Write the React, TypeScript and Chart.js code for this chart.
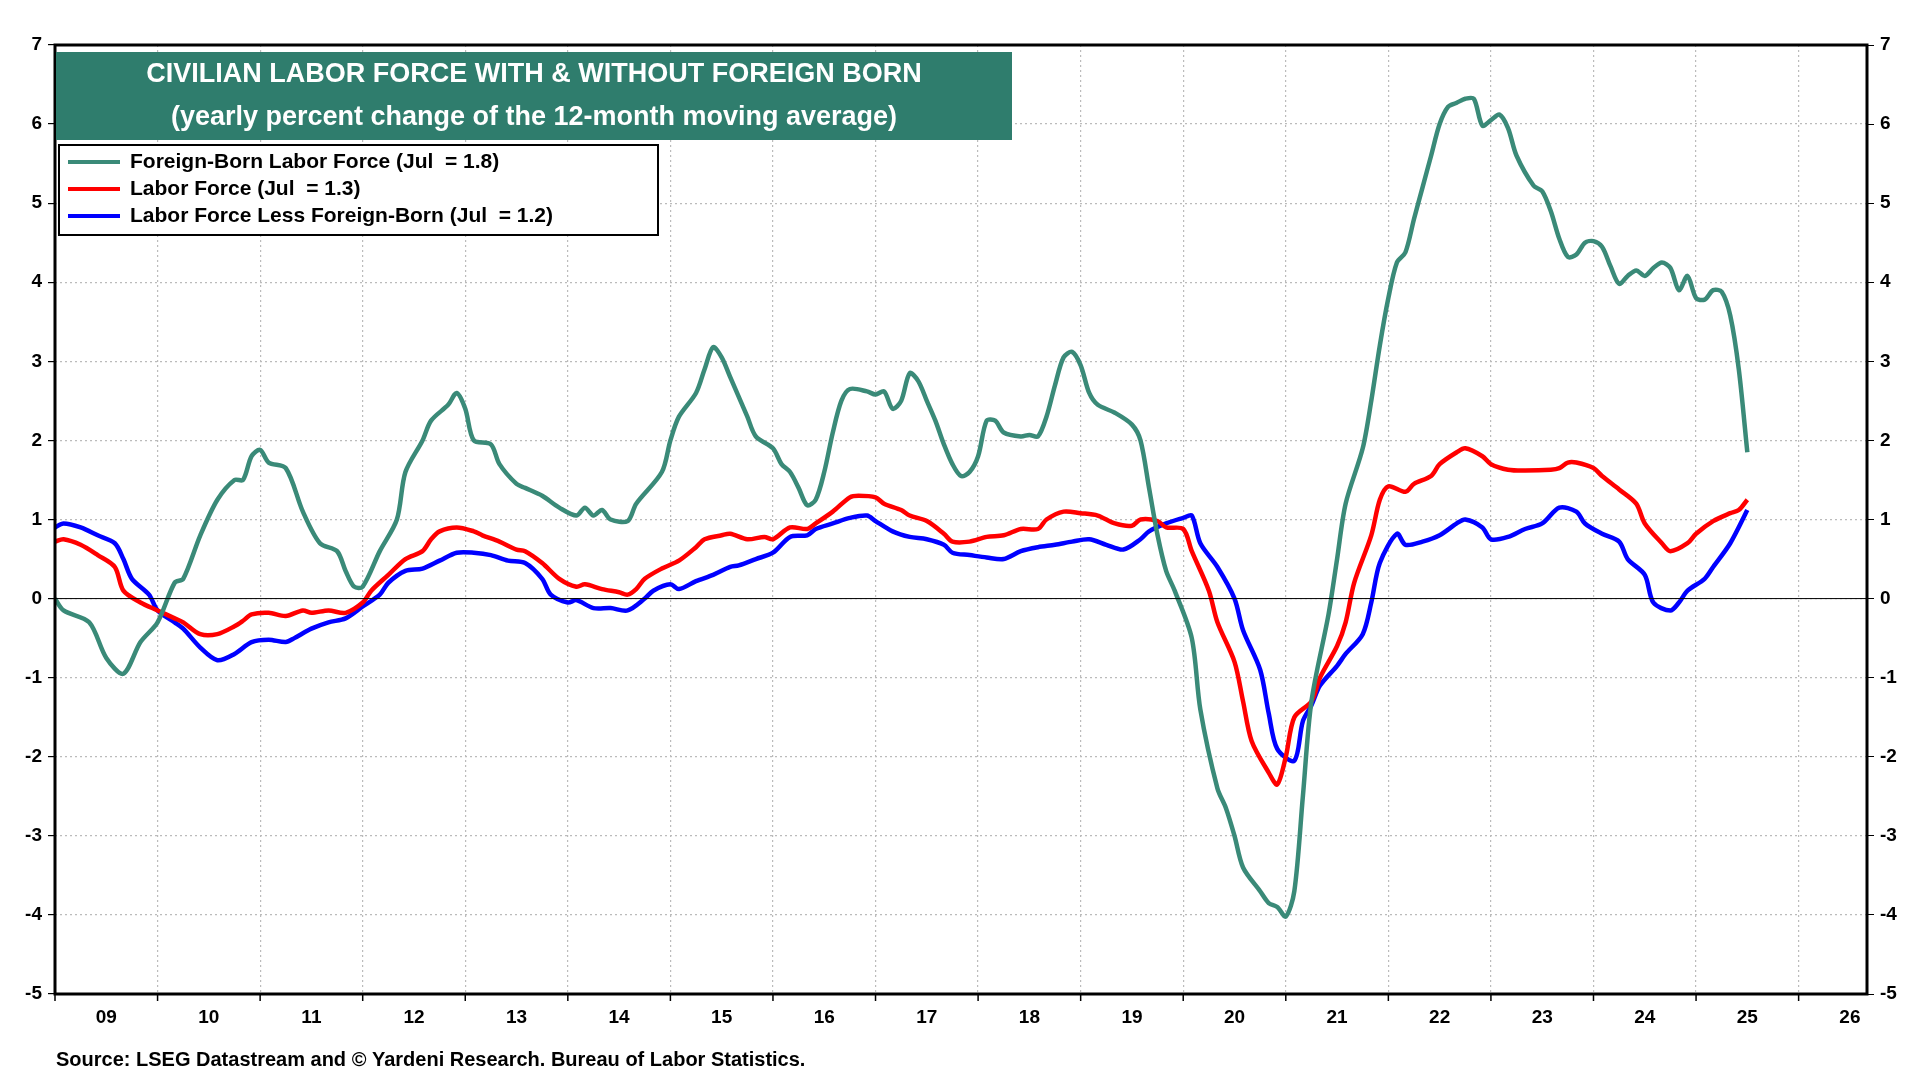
import React, { useEffect, useRef } from "react";
import { Chart, registerables } from "chart.js";
Chart.register(...registerables);

// month index since Jan 2009
const fbMonths = [0,1,4,6,8,10,12,14,15,17,19,21,22,23,24,25,27,29,31,33,34,35,36,38,40,41,43,44,46,47,48,49,51,52,54,55,57,59,61,62,63,64,65,67,68,71,72,73,75,76,77,78,79,81,82,84,85,86,87,88,89,90,91,92,93,95,96,97,98,99,100,101,102,103,104,105,106,107,108,109,110,111,113,114,115,116,117,118,119,120,121,122,124,126,127,128,129,130,131,133,134,136,137,138,139,141,142,143,144,145,146,147,149,150,151,153,154,155,156,157,158,159,160,161,162,163,164,165,166,167,168,169,170,171,173,174,175,176,177,178,179,180,181,182,183,184,185,186,187,188,189,190,191,192,193,194,195,196,197,198];
const fbValues = [0.0,-0.15,-0.3,-0.75,-0.95,-0.55,-0.3,0.2,0.25,0.8,1.25,1.5,1.5,1.8,1.88,1.72,1.65,1.1,0.7,0.6,0.35,0.15,0.15,0.6,1.0,1.6,2.0,2.25,2.45,2.6,2.4,2.0,1.95,1.7,1.45,1.4,1.3,1.15,1.05,1.15,1.05,1.12,1.0,0.98,1.2,1.6,2.0,2.3,2.6,2.9,3.18,3.05,2.8,2.3,2.05,1.9,1.7,1.6,1.4,1.18,1.25,1.6,2.1,2.5,2.65,2.62,2.58,2.62,2.4,2.5,2.85,2.75,2.5,2.25,1.95,1.7,1.55,1.6,1.8,2.25,2.25,2.1,2.05,2.07,2.05,2.3,2.7,3.05,3.12,2.95,2.6,2.45,2.35,2.2,2.0,1.4,0.8,0.35,0.1,-0.5,-1.4,-2.4,-2.65,-3.0,-3.4,-3.7,-3.85,-3.9,-4.02,-3.7,-2.5,-1.3,-0.2,0.5,1.2,1.9,2.5,3.2,3.8,4.25,4.38,4.8,5.2,5.6,6.0,6.22,6.27,6.32,6.32,5.98,6.05,6.12,5.95,5.6,5.22,5.15,4.9,4.55,4.32,4.35,4.5,4.52,4.45,4.2,3.98,4.08,4.15,4.08,4.18,4.25,4.18,3.9,4.08,3.8,3.78,3.9,3.88,3.58,2.9,1.85];

const lfMonths = [0,1,3,5,7,8,10,12,14,15,17,19,21,22,23,25,27,29,30,32,34,36,37,39,41,43,44,45,47,49,50,52,54,55,57,59,61,62,64,66,67,68,69,71,73,75,76,78,79,81,83,84,86,88,89,91,93,94,96,97,99,100,102,104,105,107,109,111,113,115,116,118,120,122,124,126,127,129,130,132,133,135,136,138,139,140,142,143,144,145,147,148,150,151,152,154,155,156,158,159,161,162,164,165,167,168,170,172,175,176,177,178,180,181,183,185,186,188,189,191,192,194,196,197,198];
const lfValues = [0.72,0.75,0.68,0.55,0.4,0.1,-0.05,-0.15,-0.25,-0.3,-0.45,-0.45,-0.35,-0.28,-0.2,-0.18,-0.22,-0.15,-0.18,-0.15,-0.18,-0.05,0.1,0.3,0.5,0.6,0.75,0.85,0.9,0.85,0.8,0.72,0.62,0.6,0.45,0.25,0.15,0.18,0.12,0.08,0.05,0.12,0.25,0.38,0.48,0.65,0.75,0.8,0.82,0.75,0.78,0.75,0.9,0.88,0.95,1.1,1.28,1.3,1.28,1.2,1.12,1.05,0.98,0.82,0.72,0.72,0.78,0.8,0.88,0.88,1.0,1.1,1.08,1.05,0.95,0.92,1.0,0.98,0.9,0.88,0.6,0.1,-0.3,-0.8,-1.3,-1.8,-2.2,-2.35,-2.0,-1.5,-1.3,-1.0,-0.6,-0.3,0.2,0.8,1.25,1.42,1.35,1.45,1.55,1.7,1.85,1.9,1.8,1.7,1.63,1.62,1.63,1.65,1.72,1.72,1.65,1.55,1.38,1.2,0.95,0.7,0.6,0.7,0.82,0.98,1.08,1.12,1.25];

const nfMonths = [0,1,3,5,7,8,9,11,12,14,15,17,19,21,23,25,27,28,30,32,34,36,38,39,41,43,45,47,49,51,53,55,57,58,60,61,63,65,67,69,70,72,73,75,77,79,80,82,84,86,88,89,91,93,95,96,98,100,102,104,105,107,109,111,113,115,117,119,121,123,125,127,128,130,132,133,134,136,138,139,141,142,143,145,146,147,148,150,151,153,154,155,157,158,160,162,164,165,167,168,170,172,174,176,178,179,181,183,184,186,187,189,190,191,193,194,196,198];
const nfValues = [0.9,0.95,0.9,0.8,0.7,0.5,0.25,0.05,-0.15,-0.3,-0.38,-0.62,-0.78,-0.7,-0.55,-0.52,-0.55,-0.5,-0.38,-0.3,-0.25,-0.1,0.05,0.2,0.35,0.38,0.48,0.58,0.58,0.55,0.48,0.45,0.25,0.05,-0.05,-0.02,-0.12,-0.12,-0.15,0.0,0.1,0.18,0.12,0.22,0.3,0.4,0.42,0.5,0.58,0.78,0.8,0.88,0.95,1.02,1.05,0.98,0.85,0.78,0.75,0.68,0.58,0.55,0.52,0.5,0.6,0.65,0.68,0.72,0.75,0.68,0.62,0.75,0.85,0.95,1.02,1.05,0.7,0.4,0.0,-0.4,-0.9,-1.45,-1.9,-2.05,-1.55,-1.35,-1.1,-0.85,-0.7,-0.45,-0.05,0.45,0.82,0.68,0.72,0.8,0.95,1.0,0.9,0.75,0.78,0.88,0.95,1.15,1.1,0.95,0.82,0.72,0.5,0.3,-0.05,-0.15,-0.05,0.1,0.25,0.4,0.7,1.12];

const yearLabels = ["09","10","11","12","13","14","15","16","17","18","19","20","21","22","23","24","25","26"];
const seriesLabels = ["Foreign-Born Labor Force (Jul  = 1.8)", "Labor Force (Jul  = 1.3)", "Labor Force Less Foreign-Born (Jul  = 1.2)"];
const titleLines = ["CIVILIAN LABOR FORCE WITH & WITHOUT FOREIGN BORN", "(yearly percent change of the 12-month moving average)"];
const sourceText = "Source: LSEG Datastream and \u00A9 Yardeni Research. Bureau of Labor Statistics.";

const TEAL = "#3a8a78";
const FONT = "'Liberation Sans', Arial, sans-serif";
const toXY = (ms: number[], vs: number[]) => ms.map((m, i) => ({ x: m, y: vs[i] }));

export default function App() {
  const ref = useRef<HTMLCanvasElement>(null);
  useEffect(() => {
    document.body.style.margin = "0";
    const colors = [TEAL, "#ff0000", "#0000ff"];
    const overlay = {
      id: "overlay",
      afterDraw(chart: any) {
        const { ctx, chartArea: a, scales } = chart;
        ctx.save();
        // zero line
        const y0 = scales.y.getPixelForValue(0);
        ctx.strokeStyle = "#000"; ctx.lineWidth = 1;
        ctx.beginPath(); ctx.moveTo(a.left, y0); ctx.lineTo(a.right, y0); ctx.stroke();
        // frame
        ctx.lineWidth = 3;
        ctx.strokeRect(a.left, a.top, a.right - a.left, a.bottom - a.top);
        // year labels
        ctx.fillStyle = "#000"; ctx.font = `bold 19px ${FONT}`;
        ctx.textAlign = "center"; ctx.textBaseline = "top";
        yearLabels.forEach((l, i) => {
          const x = scales.x.getPixelForValue(i * 12 + 6);
          ctx.fillText(l, x, a.bottom + 14);
          const gx = scales.x.getPixelForValue(i * 12);
          ctx.lineWidth = 1.5;
          ctx.beginPath(); ctx.moveTo(gx, a.bottom); ctx.lineTo(gx, a.bottom + 7); ctx.stroke();
        });
        // title box
        ctx.fillStyle = "#2f7d6d";
        ctx.fillRect(56, 52, 956, 88);
        ctx.fillStyle = "#fff"; ctx.font = `bold 27px ${FONT}`;
        ctx.textBaseline = "middle";
        ctx.fillText(titleLines[0], 534, 75);
        ctx.fillText(titleLines[1], 534, 118);
        // legend
        ctx.fillStyle = "#fff";
        ctx.fillRect(59, 145, 599, 90);
        ctx.strokeStyle = "#000"; ctx.lineWidth = 2;
        ctx.strokeRect(59, 145, 599, 90);
        ctx.font = `bold 21px ${FONT}`; ctx.textAlign = "left";
        seriesLabels.forEach((l, i) => {
          const yy = 162 + i * 27;
          ctx.strokeStyle = colors[i]; ctx.lineWidth = 4;
          ctx.beginPath(); ctx.moveTo(68, yy); ctx.lineTo(120, yy); ctx.stroke();
          ctx.fillStyle = "#000"; ctx.fillText(l, 130, yy);
        });
        // source
        ctx.font = `bold 20px ${FONT}`; ctx.textBaseline = "alphabetic";
        ctx.fillText(sourceText, 56, 1066);
        ctx.restore();
      },
    };
    const chart = new Chart(ref.current!, {
      type: "line",
      data: {
        datasets: [
          { label: seriesLabels[0], data: toXY(fbMonths, fbValues), borderColor: colors[0], borderWidth: 4.5, pointRadius: 0, tension: 0.3 },
          { label: seriesLabels[1], data: toXY(lfMonths, lfValues), borderColor: colors[1], borderWidth: 4.5, pointRadius: 0, tension: 0.3 },
          { label: seriesLabels[2], data: toXY(nfMonths, nfValues), borderColor: colors[2], borderWidth: 4.5, pointRadius: 0, tension: 0.3 },
        ],
      },
      options: {
        animation: false, responsive: false,
        layout: { padding: { top: 45, bottom: 46, left: 0, right: 0 } },
        plugins: { legend: { display: false }, tooltip: { enabled: false } },
        scales: {
          x: {
            type: "linear", min: 0, max: 212,
            afterBuildTicks: (s: any) => { s.ticks = yearLabels.map((_, i) => ({ value: i * 12 })).slice(1); },
            ticks: { callback: () => "", maxRotation: 0 },
            grid: { color: "#bbb", lineWidth: 1.2, tickLength: 0 },
            border: { display: false, dash: [2, 3] } as any,
            afterFit: (s: any) => { s.height = 40; },
          },
          y: {
            position: "left", min: -5, max: 7,
            ticks: { stepSize: 1, color: "#000", font: { family: FONT, size: 19, weight: "bold" }, padding: 6 },
            grid: { color: "#bbb", lineWidth: 1.2, tickLength: 7, tickColor: "#000" },
            border: { display: false, dash: [2, 3] } as any,
            afterFit: (s: any) => { s.width = 55; },
          },
          y2: {
            position: "right", min: -5, max: 7,
            ticks: { stepSize: 1, color: "#000", font: { family: FONT, size: 19, weight: "bold" }, padding: 6 },
            grid: { drawOnChartArea: false, tickLength: 7, tickColor: "#000" },
            border: { display: false },
            afterFit: (s: any) => { s.width = 53; },
          },
        },
      } as any,
      plugins: [overlay],
    });
    return () => chart.destroy();
  }, []);
  return <canvas ref={ref} width={1920} height={1080} style={{ display: "block" }} />;
}
